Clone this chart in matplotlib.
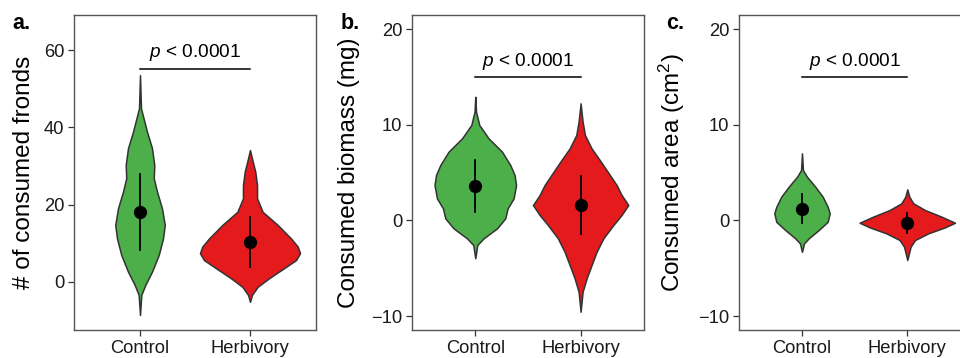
import matplotlib
matplotlib.use("Agg")
import matplotlib.pyplot as plt
import numpy as np

plt.rcParams['font.family'] = ['Liberation Sans', 'DejaVu Sans']
plt.rcParams['mathtext.fontset'] = 'custom'
plt.rcParams['mathtext.rm'] = 'Liberation Sans'
plt.rcParams['mathtext.it'] = 'Liberation Sans:italic'

## data ##
groups = ['Control', 'Herbivory']
colors = ['#4DAF4A', '#E41A1C']
ylabels = ['# of consumed fronds', 'Consumed biomass (mg)', r'Consumed area (cm$^{2}$)']
panel_tags = ['a.', 'b.', 'c.']
p_text = r'$p$ < 0.0001'

# violin outlines: y level and half width (in x units)
a_ctrl_y = [53.5, 44.9, 38.8, 34.6, 30.2, 26.8, 23.3, 19.0, 14.7, 11.2, 6.9, 2.6, -0.85, -3.4, -8.6]
a_ctrl_w = [0, .009, .064, .109, .130, .125, .155, .200, .225, .209, .170, .109, .048, .012, 0]
a_herb_y = [34.1, 31.1, 28.5, 25.0, 21.6, 18.1, 14.7, 11.2, 9.1, 7.4, 5.6, 3.5, 0.9, -1.3, -3.4, -5.2]
a_herb_w = [0, .025, .048, .064, .064, .115, .252, .373, .434, .455, .418, .309, .173, .070, .018, 0]

b_ctrl_y = [12.94, 11.37, 9.98, 8.59, 7.19, 5.80, 4.75, 3.70, 2.31, 1.26, 0.22, -0.83, -1.87, -2.57, -3.96]
b_ctrl_w = [0, .007, .038, .126, .254, .332, .373, .387, .364, .307, .285, .206, .079, .019, 0]
b_herb_y = [12.25, 10.33, 8.94, 7.54, 6.14, 4.75, 3.70, 2.66, 1.61, 0.57, -0.48, -1.87, -3.28, -4.67, -6.06, -7.46, -9.55]
b_herb_w = [0, .019, .041, .104, .193, .278, .342, .389, .453, .389, .311, .216, .152, .104, .057, .019, 0]

c_ctrl_y = [7.02, 5.27, 4.57, 3.53, 2.48, 1.43, 0.74, -0.14, -1.00, -1.87, -2.40, -3.28]
c_ctrl_w = [0, .009, .047, .126, .197, .244, .263, .244, .159, .064, .019, 0]
c_herb_y = [3.25, 2.48, 1.79, 1.09, 0.39, -0.24, -0.72, -1.35, -2.05, -2.75, -4.14]
c_herb_w = [0, .019, .057, .168, .326, .453, .358, .199, .073, .031, 0]

# mean and error bar (low, high) per group
a_mean = [18.1, 10.4]
a_low = [8.2, 3.9]
a_high = [27.8, 16.7]
b_mean = [3.63, 1.61]
b_low = [0.85, -1.42]
b_high = [6.32, 4.68]
c_mean = [1.19, -0.30]
c_low = [-0.30, -1.35]
c_high = [2.76, 0.81]

# significance bar height
sig_y = [55.2, 15.0, 15.0]

a_ticks = [0, 20, 40, 60]
bc_ticks = [-10, 0, 10, 20]

panels = [
    ([(a_ctrl_y, a_ctrl_w), (a_herb_y, a_herb_w)], a_mean, a_low, a_high, a_ticks, (-12.5, 69.0)),
    ([(b_ctrl_y, b_ctrl_w), (b_herb_y, b_herb_w)], b_mean, b_low, b_high, bc_ticks, (-11.46, 21.46)),
    ([(c_ctrl_y, c_ctrl_w), (c_herb_y, c_herb_w)], c_mean, c_low, c_high, bc_ticks, (-11.46, 21.46)),
]

W, H = 960, 358
fig = plt.figure(figsize=(W / 100, H / 100), dpi=100)

# axes boxes in pixels: left, right
boxes = [(74, 316), (412.1, 643.8), (738.8, 970.5)]
top_px, bot_px = 15.3, 330
label_x = [24, 349, 672]
tag_x = [12, 340.5, 666]

for i in range(3):
    violins, means, lows, highs, ticks, ylim = panels[i]
    l, r = boxes[i]
    ax = fig.add_axes([l / W, (H - bot_px) / H, (r - l) / W, (bot_px - top_px) / H])

    xpos = np.arange(1, 3)
    for j in range(2):
        vy = np.array(violins[j][0])
        vw = np.array(violins[j][1])
        ax.fill_betweenx(vy, xpos[j] - vw, xpos[j] + vw, facecolor=colors[j],
                         edgecolor='#333333', linewidth=1.1, joinstyle='round', zorder=2)
        ax.plot([xpos[j], xpos[j]], [lows[j], highs[j]], color='black', lw=1.3, zorder=3)
        ax.plot(xpos[j], means[j], 'o', color='black', markersize=8.5, zorder=4)

    # p value bracket
    ax.plot([1, 2], [sig_y[i], sig_y[i]], color='black', lw=1.1)
    span = ylim[1] - ylim[0]
    ax.text(1.5, sig_y[i] + span * 0.036, p_text, ha='center', va='baseline', fontsize=13.7)

    ax.set_xlim(0.4, 2.6)
    ax.set_ylim(ylim)
    ax.set_xticks(xpos)
    ax.set_xticklabels(groups)
    ax.set_yticks(ticks)
    ax.set_yticklabels([str(t).replace('-', '\u2212') for t in ticks])
    ax.tick_params(length=4, width=0.9, color='#333333', labelsize=13.2, labelcolor='#1a1a1a', pad=3)
    for s in ax.spines.values():
        s.set_color('#555555')
        s.set_linewidth(1.0)

    fig.text(label_x[i] / W, 1 - (top_px + bot_px) / 2 / H, ylabels[i], rotation=90,
             ha='center', va='center', fontsize=17.5)
    fig.text(tag_x[i] / W, 1 - 29 / H, panel_tags[i], ha='left', va='baseline',
             fontsize=15.5, fontweight='bold')

fig.savefig('out.png', dpi=100)
